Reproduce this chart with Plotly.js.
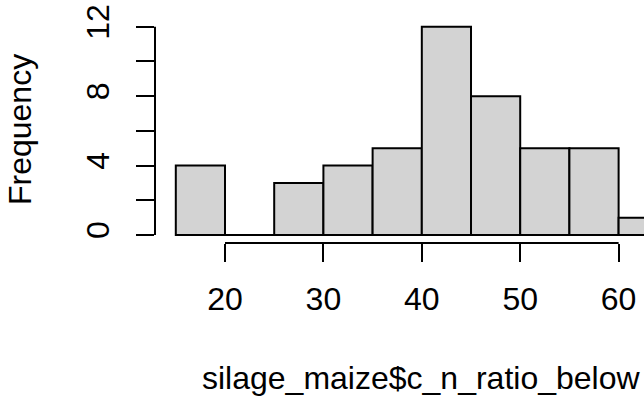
<!DOCTYPE html>
<html>
<head>
<meta charset="utf-8">
<script src="https://cdn.plot.ly/plotly-3.0.1.min.js"></script>
<style>html,body{margin:0;padding:0;background:#fff;}#chart{width:644px;height:398px;}</style>
</head>
<body>
<div id="chart"></div>
<script>
// Histogram bins (left edges) and counts
var binStarts = [15, 20, 25, 30, 35, 40, 45, 50, 55, 60];
var binWidth = 5;
var counts = [4, 0, 3, 4, 5, 12, 8, 5, 5, 1];
var xTickVals = [20, 30, 40, 50, 60];
var yTickVals = [0, 2, 4, 6, 8, 10, 12];
var yTickText = ['0', '', '4', '', '8', '', '12'];
var xTitle = 'silage_maize$c_n_ratio_below';
var yTitle = 'Frequency';

var centers = binStarts.map(function (s) { return s + binWidth / 2; });
var FONT = 'Arial, "Liberation Sans", sans-serif';
var FS = 32;

var bars = {
  type: 'bar',
  x: centers,
  y: counts,
  width: binStarts.map(function () { return binWidth; }),
  marker: { color: '#d3d3d3', line: { color: '#000', width: 2 } },
  hoverinfo: 'skip',
  showlegend: false
};
// base line under all bins (R draws zero-height bins as a flat line)
var baseLine = {
  type: 'scatter', mode: 'lines',
  x: [binStarts[0], binStarts[binStarts.length - 1] + binWidth],
  y: [0, 0],
  line: { color: '#000', width: 2 },
  hoverinfo: 'skip', showlegend: false
};

var layout = {
  width: 644, height: 398,
  margin: { l: 155, r: 0, t: 0, b: 155, pad: 0 },
  paper_bgcolor: '#fff', plot_bgcolor: '#fff',
  font: { family: FONT, color: '#000', size: FS },
  bargap: 0,
  xaxis: {
    range: [12.886, 62.58],
    tickvals: xTickVals,
    ticktext: xTickVals.map(String),
    ticks: 'outside', ticklen: 18, tickwidth: 2, tickcolor: '#000',
    ticklabelstandoff: 10,
    showline: false, showgrid: false, zeroline: false,
    tickfont: { family: FONT, size: FS, color: '#000' },
    fixedrange: true
  },
  yaxis: {
    range: [-0.46, 13.54],
    tickvals: yTickVals,
    ticktext: yTickText,
    tickangle: -90,
    ticks: 'outside', ticklen: 18, tickwidth: 2, tickcolor: '#000',
    ticklabelstandoff: 14,
    showline: false, showgrid: false, zeroline: false,
    tickfont: { family: FONT, size: FS, color: '#000' },
    fixedrange: true
  },
  shapes: [
    { type: 'line', xref: 'x', yref: 'paper', x0: xTickVals[0], x1: xTickVals[xTickVals.length - 1], y0: 0, y1: 0,
      line: { color: '#000', width: 2 } },
    { type: 'line', xref: 'paper', yref: 'y', x0: 0, x1: 0, y0: yTickVals[0], y1: yTickVals[yTickVals.length - 1],
      line: { color: '#000', width: 2 } }
  ],
  annotations: [
    { text: xTitle, xref: 'paper', yref: 'paper', x: 0.545, y: -0.556,
      xanchor: 'center', yanchor: 'middle', showarrow: false,
      font: { family: FONT, size: FS, color: '#000' } },
    { text: yTitle, xref: 'paper', yref: 'paper', x: -0.276, y: 0.465, textangle: -90,
      xanchor: 'center', yanchor: 'middle', showarrow: false,
      font: { family: FONT, size: FS, color: '#000' } }
  ]
};

Plotly.newPlot('chart', [bars, baseLine], layout, { staticPlot: true, displayModeBar: false });
</script>
</body>
</html>
